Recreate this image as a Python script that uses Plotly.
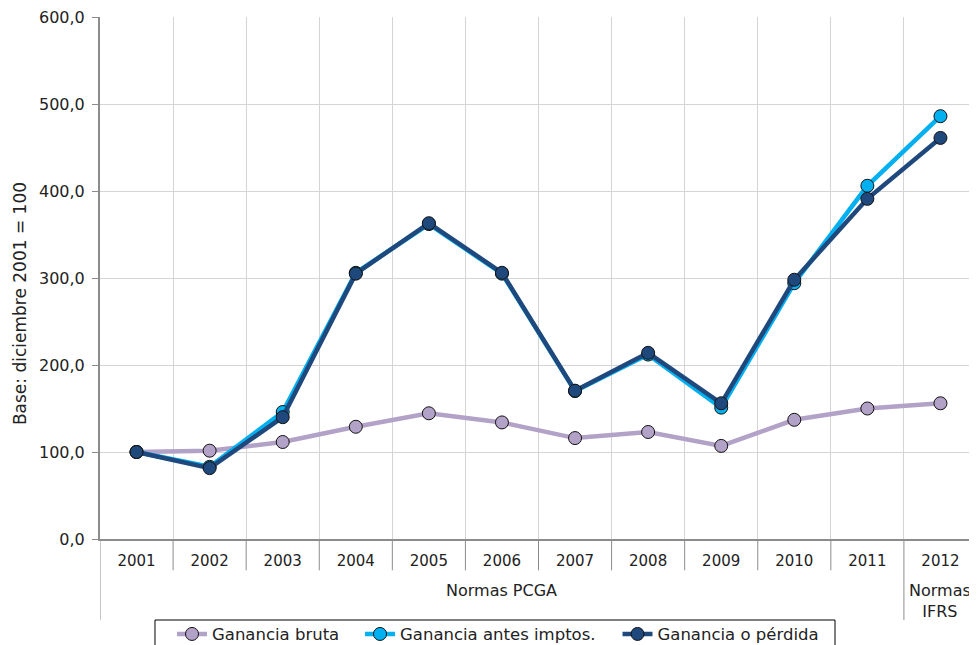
import plotly.graph_objects as go

years = ["2001", "2002", "2003", "2004", "2005", "2006", "2007", "2008", "2009", "2010", "2011", "2012"]
ganancia_bruta = [100.0, 101.5, 111.5, 129.0, 144.5, 134.0, 116.0, 123.0, 107.0, 137.0, 150.0, 156.0]
ganancia_antes_imptos = [100.0, 83.0, 146.0, 306.0, 362.0, 305.0, 170.0, 212.0, 151.0, 294.0, 406.0, 486.0]
ganancia_perdida = [100.0, 81.5, 140.0, 305.0, 363.0, 306.0, 170.5, 214.0, 156.0, 298.0, 391.0, 461.0]
group_labels = ["Normas PCGA", "Normas<br>IFRS"]
y_ticks = [0, 100, 200, 300, 400, 500, 600]
y_title = "Base: diciembre 2001 = 100"

FONT = "DejaVu Sans"
TXT = "#222222"
series = [
    ("Ganancia bruta", ganancia_bruta, "#b3a2c7", "legend", 0.0821),
    ("Ganancia antes imptos.", ganancia_antes_imptos, "#00b0f0", "legend2", 0.2965),
    ("Ganancia o pérdida", ganancia_perdida, "#1f497d", "legend3", 0.5901),
]

fig = go.Figure()
for name, vals, col, lg, _ in series:
    fig.add_trace(go.Scatter(
        x=years, y=vals, name=name, mode="lines+markers", legend=lg,
        line=dict(color=col, width=4.5),
        marker=dict(symbol="circle", size=13, color=col, line=dict(color="#111111", width=1)),
    ))

# separators under the category axis
shapes = []
for i in range(12):
    b = i - 0.5
    deep = (i == 0 or i == 11)
    shapes.append(dict(type="line", xref="x", yref="paper", x0=b, x1=b, y0=0,
                       y1=-0.155 if deep else -0.06,
                       line=dict(color="#8c8c8c", width=1)))
# legend frame
shapes.append(dict(type="rect", xref="paper", yref="paper", x0=0.0627, x1=0.8381,
                   y0=-0.1552, y1=-0.25, line=dict(color="#000000", width=1),
                   fillcolor="rgba(0,0,0,0)"))

annotations = [
    dict(x=5, y=-0.0996, xref="x", yref="paper", text=group_labels[0], showarrow=False,
         font=dict(family=FONT, size=16, color=TXT), yanchor="middle"),
    dict(x=11, y=-0.119, xref="x", yref="paper", text=group_labels[1], showarrow=False,
         font=dict(family=FONT, size=16, color=TXT), yanchor="middle"),
    dict(x=-0.0912, y=0.450, xref="paper", yref="paper", text=y_title, showarrow=False,
         textangle=-90, font=dict(family=FONT, size=17, color=TXT),
         xanchor="center", yanchor="middle"),
]

legend_common = dict(orientation="h", xanchor="left", y=-0.1489, yanchor="top",
                     borderwidth=0, bgcolor="rgba(0,0,0,0)",
                     font=dict(family=FONT, size=16.5, color=TXT), itemwidth=30)

# page body has an 8px margin: compensate so the plot lands at x 100..977, y 17..539
fig.update_layout(
    width=977, height=645,
    margin=dict(l=92, r=8, t=9, b=114, autoexpand=False),
    paper_bgcolor="white", plot_bgcolor="white",
    separators=",.",
    font=dict(family=FONT, size=16, color=TXT),
    showlegend=True,
    legend=dict(x=series[0][4], **legend_common),
    legend2=dict(x=series[1][4], **legend_common),
    legend3=dict(x=series[2][4], **legend_common),
    shapes=shapes,
    annotations=annotations,
)
fig.update_xaxes(
    type="category", range=[-0.5, 11.5],
    showgrid=True, gridcolor="#d4d4d4", gridwidth=1, tickson="boundaries",
    ticks="", showline=True, linecolor="#8c8c8c", linewidth=1.5,
    tickfont=dict(family=FONT, size=15, color=TXT),
    ticklabelstandoff=7,
)
fig.update_yaxes(
    range=[0, 600], tickvals=y_ticks, tickformat=".1f",
    showgrid=True, gridcolor="#d4d4d4", gridwidth=1, zeroline=False,
    showline=True, linecolor="#8c8c8c", linewidth=2,
    ticks="outside", ticklen=6, tickcolor="#8c8c8c",
    tickfont=dict(family=FONT, size=16, color=TXT),
    ticklabelstandoff=4, ticklabeloverflow="allow",
)

fig.write_html("out.html")
